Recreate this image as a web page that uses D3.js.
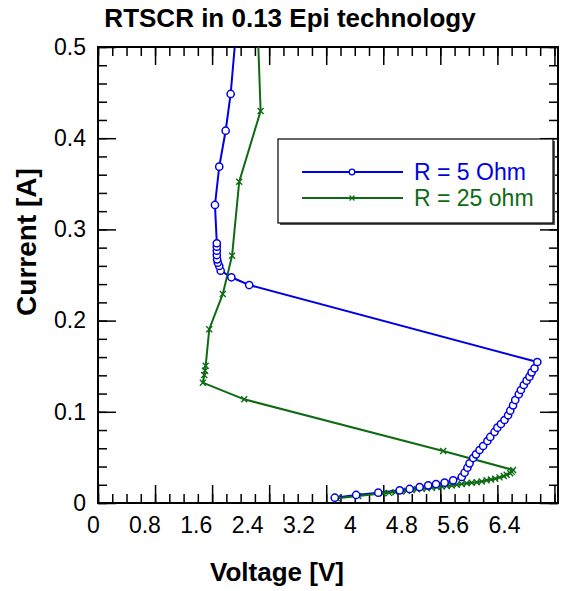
<!DOCTYPE html>
<html>
<head>
<meta charset="utf-8">
<title>RTSCR</title>
<script src="https://cdn.jsdelivr.net/npm/d3@7"></script>
<style>
body{margin:0;background:#fff;}
text{font-family:"Liberation Sans",Arial,sans-serif;}
</style>
</head>
<body>
<script>
// R = 5 Ohm, voltage [V] / current [A]
var v5 = [3.32,3.62,3.93,4.23,4.37,4.51,4.63,4.74,4.86,4.98,5.10,5.14,5.18,5.21,5.26,5.30,5.35,5.40,5.46,5.50,
          5.56,5.60,5.65,5.70,5.75,5.78,5.82,5.85,5.90,5.93,5.97,6.01,6.05,6.08,6.12,6.16,
          2.12,1.87,1.72,1.70,1.68,1.67,1.666,1.666,1.666,1.666,1.64,1.70,1.79,1.86,1.95];
var i5 = [0.0058,0.0088,0.0113,0.0139,0.0154,0.0175,0.0194,0.0208,0.0223,0.0249,0.0285,0.0332,0.0387,0.0435,0.0493,0.0534,0.0581,0.0625,0.0680,0.0724,
          0.0779,0.0826,0.0866,0.0910,0.0962,0.1012,0.1071,0.1129,0.1192,0.1239,0.1294,0.1341,0.1385,0.1433,0.1477,0.1546,
          0.2390,0.2475,0.2547,0.2599,0.2635,0.2672,0.2719,0.2766,0.2810,0.2848,0.3268,0.3688,0.4082,0.4485,0.530];
// R = 25 ohm
var v25 = [3.35,3.65,4.00,4.08,4.17,4.25,4.33,4.40,4.47,4.54,4.61,4.68,4.75,4.82,4.89,4.96,5.03,5.10,5.17,5.24,
           5.31,5.38,5.45,5.51,5.57,5.63,5.69,5.73,5.78,5.80,5.82,
           4.84,2.05,1.47,1.49,1.50,1.51,1.56,1.75,1.88,1.98,2.28,2.24];
var i25 = [0.0052,0.0077,0.0106,0.0111,0.0117,0.0126,0.0135,0.0142,0.0150,0.0155,0.0161,0.0168,0.0175,0.0180,0.0186,0.0193,0.0201,0.0208,0.0216,0.0221,
           0.0227,0.0237,0.0249,0.0257,0.0266,0.0281,0.0296,0.0310,0.0326,0.0344,0.0362,
           0.0570,0.1137,0.1319,0.1404,0.1451,0.1505,0.1905,0.2292,0.2712,0.3523,0.4298,0.519];

var xTicks = [0,0.8,1.6,2.4,3.2,4,4.8,5.6,6.4];
var yTicks = [0,0.1,0.2,0.3,0.4,0.5];
var seriesNames = ["R = 5 Ohm","R = 25 ohm"];

(function(){
var W = 573, H = 591;
var pL = 98, pR = 558, pT = 47, pB = 503;
var blue = "#0000e6", green = "#0e6b14";

var x = d3.scaleLinear().domain([0,6.45]).range([pL,pR]);
var y = d3.scaleLinear().domain([0,0.5]).range([pB,pT]);
// the tick labels of the picture sit a bit off the ticks
var xl = d3.scaleLinear().domain([0,6.4]).range([93,504]);

var svg = d3.select("body").append("svg").attr("width",W).attr("height",H);

svg.append("defs").append("clipPath").attr("id","clip")
   .append("rect").attr("x",pL).attr("y",pT).attr("width",pR-pL).attr("height",pB-pT);

var xMinor = d3.range(0,6.41,0.2), yMinor = d3.range(0,0.501,0.02);

function ticks(axis, tr, vals, size){
  var g = svg.append("g").attr("transform",tr)
    .call(axis.tickValues(vals).tickSize(size).tickFormat(""));
  g.select(".domain").remove();
  g.selectAll("line").attr("stroke","#000").attr("stroke-width",1.5);
}
ticks(d3.axisBottom(x),"translate(0,"+pB+")",xMinor,-9);
ticks(d3.axisBottom(x),"translate(0,"+pB+")",xTicks,-18);
ticks(d3.axisTop(x),"translate(0,"+pT+")",xMinor,-9);
ticks(d3.axisTop(x),"translate(0,"+pT+")",xTicks,-18);
ticks(d3.axisLeft(y),"translate("+pL+",0)",yMinor,-9);
ticks(d3.axisLeft(y),"translate("+pL+",0)",yTicks,-18);
ticks(d3.axisRight(y),"translate("+pR+",0)",yMinor,-9);
ticks(d3.axisRight(y),"translate("+pR+",0)",yTicks,-18);

// tick labels
var gy = svg.append("g").attr("transform","translate("+pL+",0)")
  .call(d3.axisLeft(y).tickValues(yTicks).tickSize(0).tickPadding(12).tickFormat(d3.format("")));
gy.select(".domain").remove();
gy.attr("font-size",23).attr("font-family","Liberation Sans, Arial, sans-serif");
gy.selectAll("text").attr("fill","#000");

var gx = svg.append("g").attr("transform","translate(0,"+pB+")")
  .call(d3.axisBottom(xl).tickValues(xTicks).tickSize(0).tickPadding(14).tickFormat(d3.format("")));
gx.select(".domain").remove();
gx.attr("font-size",23).attr("font-family","Liberation Sans, Arial, sans-serif");
gx.selectAll("text").attr("fill","#000");

svg.append("rect").attr("x",pL).attr("y",pT).attr("width",pR-pL).attr("height",pB-pT)
   .attr("fill","none").attr("stroke","#000").attr("stroke-width",2);

var line = d3.line().x(function(d){return x(d[0]);}).y(function(d){return y(d[1]);});
var d5 = v5.map(function(v,k){return [v,i5[k]];});
var d25 = v25.map(function(v,k){return [v,i25[k]];});

var plot = svg.append("g").attr("clip-path","url(#clip)");

plot.append("path").datum(d5).attr("d",line).attr("fill","none").attr("stroke",blue).attr("stroke-width",2);
plot.append("path").datum(d25).attr("d",line).attr("fill","none").attr("stroke",green).attr("stroke-width",2);

function cross(s){ return "M"+(-s)+","+(-s)+"L"+s+","+s+"M"+(-s)+","+s+"L"+s+","+(-s); }

plot.selectAll("path.x25").data(d25).enter().append("path").attr("class","x25")
  .attr("transform",function(d){return "translate("+x(d[0])+","+y(d[1])+")";})
  .attr("d",cross(3)).attr("stroke",green).attr("stroke-width",1.4).attr("fill","none");

plot.selectAll("circle.c5").data(d5).enter().append("circle").attr("class","c5")
  .attr("cx",function(d){return x(d[0]);}).attr("cy",function(d){return y(d[1]);})
  .attr("r",3.6).attr("fill","#fff").attr("stroke",blue).attr("stroke-width",1.5);

// legend
var lg = svg.append("g");
lg.append("rect").attr("x",280).attr("y",141).attr("width",275).attr("height",84).attr("fill","#555");
lg.append("rect").attr("x",278).attr("y",139).attr("width",275).attr("height",84)
  .attr("fill","#fff").attr("stroke","#000").attr("stroke-width",1.2);
var lgY = [172,198], lgC = [blue,green];
seriesNames.forEach(function(n,k){
  lg.append("line").attr("x1",302).attr("x2",403).attr("y1",lgY[k]).attr("y2",lgY[k])
    .attr("stroke",lgC[k]).attr("stroke-width",2);
  if(k==0){
    lg.append("circle").attr("cx",352).attr("cy",lgY[k]).attr("r",2.8).attr("fill","#fff")
      .attr("stroke",blue).attr("stroke-width",1.3);
  } else {
    lg.append("path").attr("transform","translate(352,"+lgY[k]+")").attr("d",cross(2.5))
      .attr("stroke",green).attr("stroke-width",1.2);
  }
  lg.append("text").attr("x",414).attr("y",lgY[k]+8).attr("font-size",23).attr("fill",lgC[k]).text(n);
});

// titles
svg.append("text").attr("x",290).attr("y",27).attr("text-anchor","middle")
  .attr("font-size",26).attr("font-weight","bold").text("RTSCR in 0.13 Epi technology");
svg.append("text").attr("x",277).attr("y",581).attr("text-anchor","middle")
  .attr("font-size",26).attr("font-weight","bold").text("Voltage [V]");
svg.append("text").attr("transform","translate(36,242) rotate(-90)").attr("text-anchor","middle")
  .attr("font-size",28).attr("font-weight","bold").text("Current [A]");
})();
</script>
</body>
</html>
